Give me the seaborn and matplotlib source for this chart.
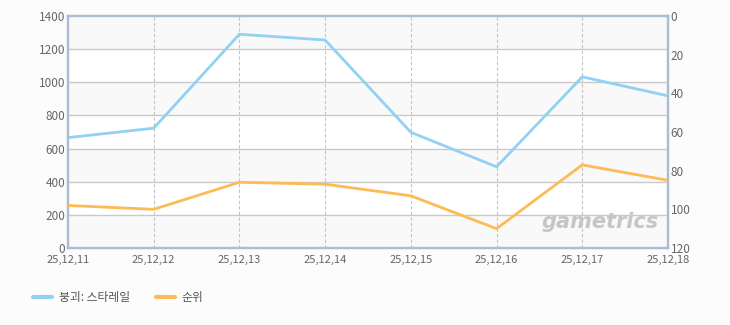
import matplotlib
matplotlib.use("Agg")
import matplotlib.pyplot as plt
import seaborn as sns
import pandas as pd

dates = ["25,12,11", "25,12,12", "25,12,13", "25,12,14", "25,12,15", "25,12,16", "25,12,17", "25,12,18"]
players = [666, 723, 1290, 1255, 698, 490, 1033, 918]
rank = [98, 100, 86, 87, 93, 110, 77, 85]
series_names = ["붕괴: 스타레일", "순위"]
left_ticks = [0, 200, 400, 600, 800, 1000, 1200, 1400]
right_ticks = [0, 20, 40, 60, 80, 100, 120]

sns.set_style("white")
plt.rcParams["font.family"] = ["Noto Sans CJK KR", "DejaVu Sans"]

BLUE = "#92d1f2"
ORANGE = "#fdbb55"
SPINE = "#aabdd2"
TXT = "#666666"

df = pd.DataFrame({"x": range(len(dates)), "players": players, "rank": rank})

fig = plt.figure(figsize=(7.3, 3.25), dpi=100)
fig.patch.set_facecolor("#fcfcfc")
ax = fig.add_axes([68/730, 77/325, 600/730, 232/325])
ax.set_facecolor("white")

# alternating bands
for lo in [0, 400, 800, 1200]:
    ax.axhspan(lo, lo + 200, color="#f9f9f9", zorder=0, lw=0)
for t in left_ticks[1:-1]:
    ax.axhline(t, color="#c9c9c9", lw=1, zorder=1)
for i in range(1, len(dates) - 1):
    ax.axvline(i, color="#c4c4c4", lw=0.8, ls=(0, (3, 2)), zorder=1)

sns.lineplot(data=df, x="x", y="players", ax=ax, color=BLUE, lw=2, zorder=3, legend=False)
ax.set_xlim(0, len(dates) - 1)
ax.set_ylim(0, 1400)
ax.set_yticks(left_ticks)
ax.set_xticks(range(len(dates)))
ax.set_xticklabels(dates)
ax.set_xlabel("")
ax.set_ylabel("")

ax2 = ax.twinx()
sns.lineplot(data=df, x="x", y="rank", ax=ax2, color=ORANGE, lw=2, zorder=3, legend=False)
ax2.set_ylim(120, 0)
ax2.set_yticks(right_ticks)
ax2.set_ylabel("")

for a in (ax, ax2):
    for s in a.spines.values():
        s.set_color(SPINE)
        s.set_linewidth(1.6)
    a.tick_params(axis="y", length=0, labelsize=8.5, labelcolor=TXT, pad=2)
ax.tick_params(axis="x", length=0, labelsize=8, labelcolor=TXT, pad=5)

ax.text(0.985, 0.07, "gametrics", transform=ax.transAxes, ha="right", va="bottom",
        fontsize=15, fontweight="bold", fontstyle="italic", color="#c6c6c6",
        family="DejaVu Sans", zorder=2)

# legend
from matplotlib.lines import Line2D
handles = [Line2D([0], [0], color=BLUE, lw=3), Line2D([0], [0], color=ORANGE, lw=3)]
fig.legend(handles, series_names, loc="center left", bbox_to_anchor=(22/730, 1 - 298/325),
           ncol=2, frameon=False, fontsize=8.5, handlelength=1.6, handletextpad=0.6,
           columnspacing=2.2, labelcolor="#555555")

fig.savefig("out.png", dpi=100, facecolor=fig.get_facecolor())
